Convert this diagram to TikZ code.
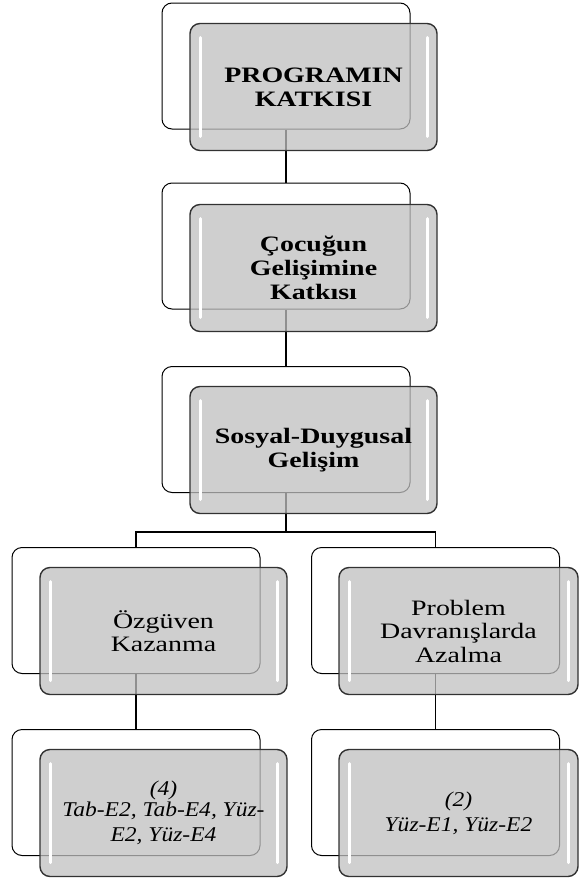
\documentclass[tikz,border=0pt]{standalone}
\usepackage{fontspec}
\setmainfont{Liberation Serif}
\newfontfamily\headfont{Liberation Serif}[FakeStretch=1.27]
\newfontfamily\reffont{Liberation Serif}[FakeStretch=1.12]
\usetikzlibrary{backgrounds}
\definecolor{BoxGray}{RGB}{192,192,192}
\definecolor{EdgeGray}{RGB}{50,50,50}

\begin{document}
\begin{tikzpicture}[x=1pt, y=-1pt,
	backbox/.style={draw=black, line width=1pt, rounded corners=10pt, fill=white,
		minimum width=248pt, minimum height=126pt},
	frontbox/.style={draw=EdgeGray, line width=1.4pt, rounded corners=10pt,
		fill=BoxGray, fill opacity=0.75, text opacity=1, draw opacity=1,
		minimum width=247pt, minimum height=127pt, align=center, inner sep=0pt,
		path picture={
			\draw[white, line width=3pt, line cap=round]
				([xshift=10pt,yshift=-14pt]path picture bounding box.north west) --
				([xshift=10pt,yshift=14pt]path picture bounding box.south west);
			\draw[white, line width=3pt, line cap=round]
				([xshift=-10pt,yshift=-14pt]path picture bounding box.north east) --
				([xshift=-10pt,yshift=14pt]path picture bounding box.south east);
		}},
	headtext/.style={font=\headfont\bfseries\fontsize{22}{24}\selectfont},
	itemtext/.style={font=\headfont\fontsize{22}{23.5}\selectfont},
	reftext/.style={font=\reffont\itshape\fontsize{21}{25}\selectfont},
	link/.style={line width=1.5pt, black}]
	\useasboundingbox (0,0) rectangle (579,881);
	
	% back frames
	\node[backbox] (b1) at (286,66) {};
	\node[backbox] (b2) at (286,246) {};
	\node[backbox] (b3) at (286,429.5) {};
	\node[backbox] (b4l) at (136,610.5) {};
	\node[backbox] (b4r) at (435.5,610.5) {};
	\node[backbox] (b5l) at (136,792.5) {};
	\node[backbox] (b5r) at (435.5,792.5) {};
	
	% front boxes
	\node[frontbox, headtext] (f1) at ([shift={(27.5,21)}]b1.center) {PROGRAMIN\\KATKISI};
	\node[frontbox, headtext] (f2) at ([shift={(27.5,22)}]b2.center) {Çocuğun\\Gelişimine\\Katkısı};
	\node[frontbox, headtext] (f3) at ([shift={(27.5,20.5)}]b3.center) {Sosyal-Duygusal\\Gelişim};
	\node[frontbox, itemtext] (f4l) at ([shift={(27.5,20.5)}]b4l.center) {Özgüven\\Kazanma};
	\node[frontbox, itemtext, minimum width=239pt] (f4r) at ([shift={(23,20.5)}]b4r.center) {Problem\\Davranışlarda\\Azalma};
	\node[frontbox, reftext] (f5l) at ([shift={(27.5,20.5)}]b5l.center) {(4)\\[-4pt]Tab-E2, Tab-E4, Yüz-\\E2, Yüz-E4};
	\node[frontbox, reftext, minimum width=239pt] (f5r) at ([shift={(23,20.5)}]b5r.center) {(2)\\Yüz-E1, Yüz-E2};
	
	\coordinate (split) at (286,532);
	
	% connectors
	\begin{scope}[on background layer]
		\draw[link] (b1.south) -- (b2.north);
		\draw[link] (b2.south) -- (b3.north);
		\draw[link] (b3.south) -- (split);
		\draw[link] (b4l.north) |- (split) -| (b4r.north);
		\draw[link] (b4l.south) -- (b5l.north);
		\draw[link] (b4r.south) -- (b5r.north);
	\end{scope}
\end{tikzpicture}
\end{document}
